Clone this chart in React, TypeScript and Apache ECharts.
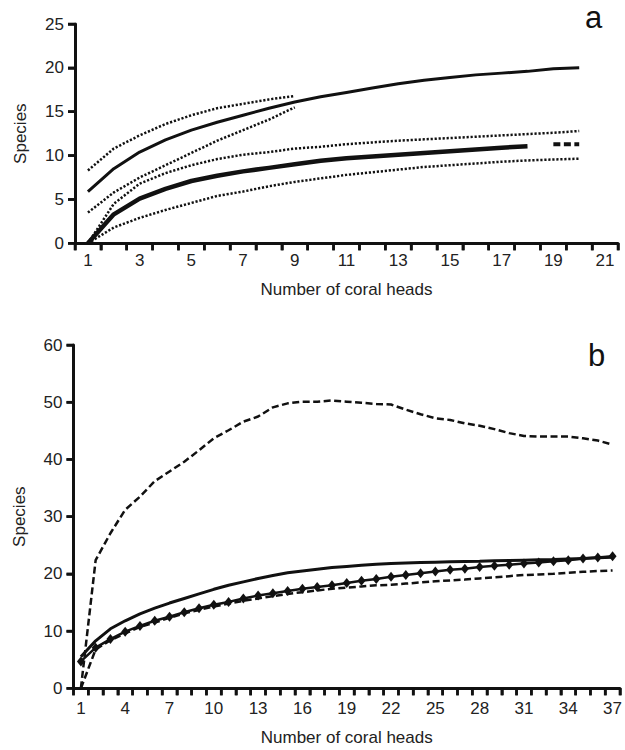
import React, { useEffect, useRef } from "react";
import * as echarts from "echarts";

const categoriesA = ["1","2","3","4","5","6","7","8","9","10","11","12","13","14","15","16","17","18","19","20","21"];
const categoriesB = ["1","2","3","4","5","6","7","8","9","10","11","12","13","14","15","16","17","18","19","20","21","22","23","24","25","26","27","28","29","30","31","32","33","34","35","36","37"];
const yTicksA = [0, 5, 10, 15, 20, 25];
const yTicksB = [0, 10, 20, 30, 40, 50, 60];

// Panel a
const aUpperMean = [5.9, 8.5, 10.4, 11.8, 12.9, 13.8, 14.6, 15.4, 16.1, 16.7, 17.2, 17.7, 18.2, 18.6, 18.9, 19.2, 19.4, 19.6, 19.9, 20.0];
const aUpperHi = [8.3, 10.8, 12.3, 13.6, 14.6, 15.4, 15.9, 16.4, 16.8];
const aUpperLo = [3.5, 5.8, 7.5, 8.9, 10.3, 11.7, 12.9, 14.1, 15.5];
const aLowerMean = [0, 3.3, 5.1, 6.2, 7.1, 7.7, 8.2, 8.6, 9.0, 9.4, 9.7, 9.9, 10.1, 10.3, 10.5, 10.7, 10.9, 11.05];
const aLowerExtrap = [null, null, null, null, null, null, null, null, null, null, null, null, null, null, null, null, null, null, 11.3, 11.3];
const aLowerHi = [0, 4.5, 6.8, 8.0, 8.9, 9.6, 10.1, 10.4, 10.8, 11.0, 11.3, 11.5, 11.7, 11.85, 12.0, 12.15, 12.3, 12.45, 12.6, 12.8];
const aLowerLo = [0, 1.8, 2.9, 3.8, 4.6, 5.4, 5.9, 6.5, 7.0, 7.4, 7.8, 8.1, 8.4, 8.7, 8.9, 9.1, 9.3, 9.45, 9.55, 9.65];

// Panel b
const bUpper = [0, 22.4, 27.1, 31.2, 33.5, 36.2, 37.9, 39.6, 41.6, 43.7, 45.1, 46.6, 47.5, 49.1, 49.8, 50.1, 50.1, 50.3, 50.1, 49.9, 49.7, 49.6, 48.7, 47.9, 47.2, 46.9, 46.3, 45.9, 45.3, 44.6, 44.1, 44.0, 44.0, 44.0, 43.7, 43.3, 42.6];
const bMean = [5.5, 8.3, 10.4, 11.8, 13.0, 14.0, 14.9, 15.7, 16.5, 17.3, 18.0, 18.6, 19.2, 19.7, 20.2, 20.5, 20.8, 21.1, 21.3, 21.5, 21.7, 21.8, 21.9, 22.0, 22.05, 22.1, 22.15, 22.2, 22.3, 22.35, 22.4, 22.45, 22.5, 22.6, 22.7, 22.8, 22.9];
const bDiamond = [4.7, 7.1, 8.6, 9.9, 10.9, 11.8, 12.5, 13.3, 14.0, 14.6, 15.1, 15.7, 16.2, 16.6, 17.0, 17.4, 17.7, 18.0, 18.4, 18.8, 19.1, 19.5, 19.8, 20.1, 20.4, 20.7, 20.9, 21.2, 21.4, 21.6, 21.8, 22.0, 22.2, 22.4, 22.7, 22.85, 23.1];
const bLower = [0, 6.8, 8.4, 9.6, 10.7, 11.5, 12.3, 13.1, 13.7, 14.3, 14.8, 15.3, 15.7, 16.1, 16.5, 16.8, 17.1, 17.4, 17.6, 17.8, 18.0, 18.1, 18.3, 18.5, 18.7, 18.85, 19.0, 19.2, 19.4, 19.6, 19.8, 19.9, 20.0, 20.2, 20.35, 20.5, 20.6];

const FONT = "'Liberation Sans', Arial, Helvetica, sans-serif";
const INK = "#111111";
const TICK_LEN = 7;
const TICK_W = 2.6;

export default function App() {
  const ref = useRef<HTMLDivElement>(null);

  useEffect(() => {
    if (!ref.current) return;
    const chart = echarts.init(ref.current, undefined, { renderer: "svg" });

    const axisLine = () => ({ show: true, onZero: false, lineStyle: { color: INK, width: 3 } });
    const axisTick = () => ({ show: true, inside: false, length: TICK_LEN, lineStyle: { color: INK, width: 2.5 } });
    const labelStyle = { color: "#222", fontSize: 17, fontFamily: FONT };
    const nameStyle = { color: "#222", fontSize: 17, fontFamily: FONT };

    const dotted = { color: INK, width: 2.5, type: [2.2, 1.8] as number[] };
    const dashed = { color: INK, width: 2.5, type: [7, 3.5] as number[] };

    const line = (data: any[], xi: number, lineStyle: any, extra: any = {}) => ({
      type: "line",
      xAxisIndex: xi,
      yAxisIndex: xi,
      data,
      symbol: "none",
      lineStyle,
      connectNulls: false,
      z: 3,
      ...extra,
    });

    // Tick marks as small filled rects, placed through the series' coordinate system.
    const tickSeries = (xi: number, cats: string[], yTicks: number[]) => {
      const items: number[][] = [];
      for (let k = 0; k <= cats.length; k++) items.push([0, k]);
      for (let j = 0; j < yTicks.length; j++) items.push([1, yTicks[j]]);
      return {
        type: "custom",
        coordinateSystem: "cartesian2d",
        xAxisIndex: xi,
        yAxisIndex: xi,
        clip: false,
        silent: true,
        z: 10,
        data: items,
        renderItem: (params: any, api: any) => {
          const kind = api.value(0);
          const v = api.value(1);
          const p0 = api.coord([0, yTicks[0]]);
          const p1 = api.coord([1, yTicks[0]]);
          const band = p1[0] - p0[0];
          const axisX = p0[0] - band / 2;
          const axisY = p0[1];
          if (kind === 0) {
            const x = axisX + v * band;
            return {
              type: "rect",
              shape: { x: x - TICK_W / 2, y: axisY, width: TICK_W, height: TICK_LEN },
              style: { fill: INK },
            };
          }
          const y = api.coord([0, v])[1];
          return {
            type: "rect",
            shape: { x: axisX - TICK_LEN, y: y - TICK_W / 2, width: TICK_LEN, height: TICK_W },
            style: { fill: INK },
          };
        },
      };
    };

    chart.setOption({
      animation: false,
      backgroundColor: "#ffffff",
      grid: [
        { left: 75, right: 7, top: 24, height: 219.3 },
        { left: 73.5, right: 3.5, top: 345, height: 343.3 },
      ],
      xAxis: [
        {
          type: "category",
          gridIndex: 0,
          data: categoriesA,
          boundaryGap: true,
          axisLine: axisLine(),
          axisTick: { ...axisTick(), interval: 0, alignWithLabel: false },
          axisLabel: { ...labelStyle, interval: 1, margin: 9 },
          splitLine: { show: false },
          name: "Number of coral heads",
          nameLocation: "middle",
          nameGap: 38,
          nameTextStyle: nameStyle,
        },
        {
          type: "category",
          gridIndex: 1,
          data: categoriesB,
          boundaryGap: true,
          axisLine: axisLine(),
          axisTick: { ...axisTick(), interval: 0, alignWithLabel: false },
          axisLabel: { ...labelStyle, interval: 2, margin: 12 },
          splitLine: { show: false },
          name: "Number of coral heads",
          nameLocation: "middle",
          nameGap: 41,
          nameTextStyle: nameStyle,
        },
      ],
      yAxis: [
        {
          type: "value",
          gridIndex: 0,
          min: yTicksA[0],
          max: yTicksA[yTicksA.length - 1],
          interval: yTicksA[1] - yTicksA[0],
          axisLine: axisLine(),
          axisTick: axisTick(),
          axisLabel: { ...labelStyle, margin: 11 },
          splitLine: { show: false },
          name: "Species",
          nameLocation: "middle",
          nameGap: 46,
          nameTextStyle: nameStyle,
        },
        {
          type: "value",
          gridIndex: 1,
          min: yTicksB[0],
          max: yTicksB[yTicksB.length - 1],
          interval: yTicksB[1] - yTicksB[0],
          axisLine: axisLine(),
          axisTick: axisTick(),
          axisLabel: { ...labelStyle, margin: 11 },
          splitLine: { show: false },
          name: "Species",
          nameLocation: "middle",
          nameGap: 46,
          nameTextStyle: nameStyle,
        },
      ],
      graphic: [
        { type: "text", left: 585, top: 2, style: { text: "a", fontSize: 31, fontFamily: FONT, fill: "#111" } },
        { type: "text", left: 588, top: 340, style: { text: "b", fontSize: 31, fontFamily: FONT, fill: "#111" } },
      ],
      series: [
        line(aUpperHi, 0, dotted),
        line(aUpperLo, 0, dotted),
        line(aLowerHi, 0, dotted),
        line(aLowerLo, 0, dotted),
        line(aUpperMean, 0, { color: INK, width: 3 }),
        line(aLowerMean, 0, { color: INK, width: 4.5 }),
        line(aLowerExtrap, 0, { color: INK, width: 4, type: [7, 3.5] }),
        line(bUpper, 1, dashed),
        line(bLower, 1, dashed),
        line(bMean, 1, { color: INK, width: 3 }),
        line(bDiamond, 1, { color: INK, width: 2.5 }, {
          symbol: "diamond",
          symbolSize: [8, 10],
          itemStyle: { color: INK },
          showSymbol: true,
          showAllSymbol: true,
        }),
        tickSeries(0, categoriesA, yTicksA),
        tickSeries(1, categoriesB, yTicksB),
      ],
    });

    return () => chart.dispose();
  }, []);

  return (
    <div
      ref={ref}
      style={{ position: "absolute", left: 0, top: 0, width: 625, height: 750, background: "#fff" }}
    />
  );
}
